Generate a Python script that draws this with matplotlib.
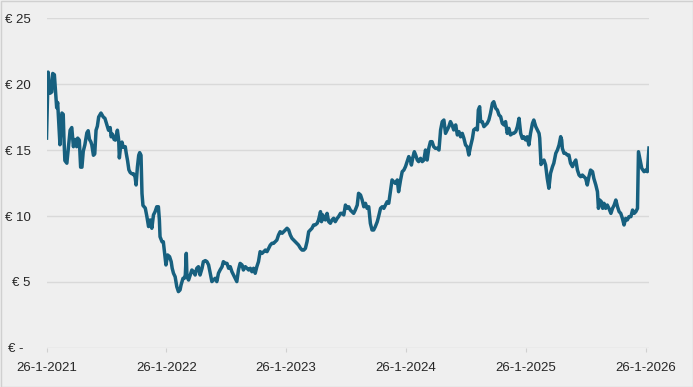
import matplotlib
matplotlib.use("Agg")
import matplotlib.pyplot as plt
import matplotlib.patches as mpatches
import pandas as pd

start_date = "2021-01-26"
day_offsets = [
    0, 5, 11, 16, 19, 24, 28, 31, 34, 38, 41, 44, 47, 51, 53, 56, 62, 67, 72, 77,
    82, 87, 92, 95, 100, 104, 108, 112, 117, 123, 127, 131, 135, 138, 143, 147, 151, 155, 159, 166,
    173, 178, 184, 189, 194, 197, 201, 206, 210, 216, 220, 222, 226, 230, 234, 240, 243, 247, 251, 255,
    260, 265, 270, 273, 277, 281, 284, 288,
    291, 294, 301, 306, 311, 316, 321, 326, 331, 336, 341, 344, 346, 352, 356, 360, 364, 369, 375, 380,
    383, 387, 392, 397, 402, 407, 410, 416, 420, 423, 426, 428, 433, 438, 443, 448, 453, 458, 463, 468,
    474, 478, 484, 489, 494, 499, 504, 509, 514, 519, 524, 529, 535, 539, 545, 550, 555, 560, 565, 570,
    575, 580, 585, 590,
    596, 600, 606, 611, 616, 621, 626, 631, 636, 641, 646, 651, 657, 662, 667, 672, 677, 682, 687, 692,
    697, 702, 707, 712, 718, 723, 728, 733, 738, 743, 748, 753, 758, 763, 768, 774, 779, 784, 789, 794,
    799, 804, 809, 814, 819, 825, 829, 835, 838, 842, 845, 850, 855, 860, 865, 870, 875, 880, 886, 890, 896,
    901, 906, 911, 916, 921, 926, 931, 936, 941, 947, 951, 957, 962, 967, 972, 977, 982, 987, 992, 997,
    1002, 1008, 1012, 1018, 1023, 1028, 1033, 1038, 1043, 1048, 1053, 1058, 1063, 1069, 1073, 1079, 1084, 1089, 1094, 1099,
    1104, 1109, 1112, 1117, 1121, 1125, 1130, 1134, 1140, 1145, 1150, 1155, 1160, 1165, 1170, 1175, 1180, 1185, 1191, 1196, 1201,
    1206, 1211, 1216, 1221, 1226, 1231, 1236, 1241, 1247, 1252, 1257, 1262, 1267, 1272, 1277, 1282, 1287, 1292, 1298, 1302,
    1308, 1313, 1316, 1320, 1323, 1328, 1333, 1338, 1343, 1348, 1353, 1359, 1363, 1369, 1374, 1379, 1384, 1389, 1394, 1399,
    1404, 1409, 1414, 1420, 1424, 1430, 1435, 1440, 1445, 1450, 1455, 1460, 1465, 1470, 1475, 1481, 1485, 1491, 1496, 1501, 1503, 1507,
    1509, 1516, 1521, 1526, 1531, 1536, 1542, 1546, 1552, 1557, 1562, 1567, 1570, 1572, 1577, 1582, 1587, 1592, 1597, 1603,
    1607, 1613, 1618, 1623, 1628, 1633, 1638, 1643, 1648, 1653, 1658, 1664, 1668, 1674, 1679, 1682, 1686, 1691, 1695, 1699,
    1704, 1709, 1714, 1720, 1725, 1730, 1735, 1740, 1745, 1750, 1755, 1760, 1765, 1770, 1775, 1781, 1786, 1791, 1796, 1801,
    1804, 1809, 1814, 1821, 1826, 1831, 1836,
]
prices = [
    15.9, 20.9, 19.3, 19.4, 20.8, 20.7, 19.3, 18.2, 18.6, 16.8, 15.4, 16.8, 17.8, 17.7, 16.0, 14.2, 14.0, 15.25, 16.5, 16.7,
    15.25, 15.8, 15.25, 15.9, 15.75, 13.7, 13.7, 14.9, 15.4, 16.3, 16.46, 15.8, 15.63, 15.4, 14.6, 14.7, 16.5, 16.8, 17.5, 17.8,
    17.5, 17.4, 16.9, 16.5, 16.7, 16.0, 16.2, 15.8, 15.75, 16.5, 15.75, 14.4, 15.3, 15.6, 15.2, 15.25, 14.75, 14.2, 13.5, 13.3,
    13.2, 13.2, 12.95, 12.35, 13.7, 14.6, 14.8, 14.6,
    11.7, 10.8, 10.6, 9.95, 9.2, 9.7, 9.07, 10.08, 10.33, 10.7, 10.7, 9.7, 8.43, 8.05, 8.05, 7.17, 6.29, 7.05, 6.92, 6.54,
    6.04, 5.66, 5.4, 4.65, 4.27, 4.4, 4.77, 5.28, 5.28, 5.53, 7.17, 5.4, 5.15, 5.53, 5.91, 5.78, 5.53, 6.04, 6.16, 5.53,
    6.04, 6.54, 6.62, 6.54, 6.29, 5.66, 5.03, 5.15, 5.28, 5.03, 5.66, 5.91, 6.16, 6.54, 6.41, 6.41, 6.04, 6.16, 5.78, 5.53,
    5.28, 5.03, 5.91, 6.41,
    6.29, 5.91, 6.16, 6.04, 5.91, 6.04, 5.78, 6.04, 5.66, 6.16, 6.54, 7.3, 7.17, 7.3, 7.42, 7.3, 7.55, 7.8, 7.93, 7.93,
    8.06, 8.18, 8.56, 8.81, 8.69, 8.81, 8.94, 9.07, 8.94, 8.56, 8.31, 8.18, 8.06, 7.93, 7.8, 7.55, 7.42, 7.42, 7.55, 8.06,
    8.81, 8.94, 9.07, 9.32, 9.32, 9.45, 9.7, 10.33, 9.57, 10.08, 9.83, 9.7, 10.2, 9.57, 9.45, 9.7, 9.83, 9.57, 9.83, 9.95, 10.2,
    10.2, 10.08, 10.83, 10.58, 10.7, 10.45, 10.33, 10.2, 10.45, 10.83, 11.72, 11.59, 11.21, 10.7, 10.96, 10.58, 10.7, 9.44, 8.94, 8.94,
    9.19, 9.57, 9.95, 10.58, 10.7, 10.58, 10.83, 11.08, 10.96, 11.84, 12.73, 12.6, 12.47, 12.73, 11.84, 12.73, 13.36, 13.48, 13.74, 14.12,
    14.5, 14.24, 13.86, 14.5, 14.87, 14.62, 14.24, 14.12, 14.37, 14.12, 14.24, 15.0, 14.24, 15.13, 15.63, 15.63, 15.25, 15.13, 15.13, 15.0, 16.52,
    17.15, 17.27, 16.26, 16.52, 16.77, 17.15, 16.9, 16.52, 16.9, 16.14, 16.39, 16.0, 16.26, 15.88, 15.38, 15.25, 14.62, 15.25, 15.88, 16.52,
    16.64, 16.52, 18.03, 18.28, 17.15, 17.15, 16.77, 16.9, 17.02, 17.27, 17.78, 18.54, 18.66, 18.16, 18.03, 17.65, 17.53, 17.02, 16.9, 17.15,
    16.26, 16.64, 16.14, 16.26, 16.26, 16.39, 16.77, 17.4, 16.26, 15.88, 16.0, 15.76, 16.0, 15.38, 16.26, 17.02, 17.27, 16.77, 16.52, 16.26, 15.9, 13.9,
    14.0, 14.24, 13.86, 12.85, 12.1, 13.23, 13.74, 14.0, 14.75, 15.0, 15.38, 16.01, 15.76, 15.13, 14.75, 14.75, 14.62, 14.62, 14.0, 13.74,
    14.0, 14.24, 13.48, 13.1, 12.98, 13.1, 12.98, 12.85, 12.35, 12.98, 13.48, 13.36, 12.85, 12.35, 11.84, 10.58, 11.21, 11.08, 10.58, 10.96,
    10.58, 10.83, 10.58, 10.2, 10.58, 10.83, 11.21, 10.71, 10.33, 10.2, 9.82, 9.32, 9.82, 9.7, 9.95, 9.95, 10.45, 10.2, 10.33, 10.58,
    14.87, 14.24, 13.61, 13.36, 13.48, 13.36, 15.15,
]
y_ticks = [0, 5, 10, 15, 20, 25]
y_tick_labels = ["€ -  ", "€ 5", "€ 10", "€ 15", "€ 20", "€ 25"]
x_tick_dates = ["2021-01-26", "2022-01-26", "2023-01-26", "2024-01-26", "2025-01-26", "2026-01-26"]
x_tick_labels = ["26-1-2021", "26-1-2022", "26-1-2023", "26-1-2024", "26-1-2025", "26-1-2026"]

plt.rcParams["font.family"] = ["Liberation Sans", "DejaVu Sans"]

dates = pd.Timestamp(start_date) + pd.to_timedelta(day_offsets, unit="D")

bg = "#efefef"
fig = plt.figure(figsize=(6.93, 3.87), dpi=100, facecolor=bg)
ax = fig.add_axes([46.5 / 693, 39 / 387, (649.3 - 46.5) / 693, 330 / 387])
ax.set_facecolor(bg)

ax.plot(dates, prices, color="#17607f", lw=2.5, solid_joinstyle="round", zorder=3)

ax.set_ylim(0, 25)
ax.set_xlim(dates[0], dates[-1] + pd.Timedelta(days=1))
ax.set_yticks(y_ticks)
ax.set_yticklabels(y_tick_labels)
ax.set_xticks(pd.to_datetime(x_tick_dates))
ax.set_xticklabels(x_tick_labels)

ax.grid(axis="y", color="#d9d9d9", lw=1.0, zorder=1)
for s in ax.spines.values():
    s.set_visible(False)
ax.tick_params(axis="y", length=0, pad=11.5, labelsize=9.5, labelcolor="#262626")
ax.tick_params(axis="x", length=3, width=0.8, color="#d0d0d0", pad=7, labelsize=9.5, labelcolor="#262626")

fig.patches.append(mpatches.Rectangle((0.5 / 693, 0.5 / 387), 692 / 693, 386 / 387,
                                      transform=fig.transFigure, fill=False,
                                      edgecolor="#d0d0d0", lw=1.0))

fig.savefig("out.png", dpi=100, facecolor=bg)
